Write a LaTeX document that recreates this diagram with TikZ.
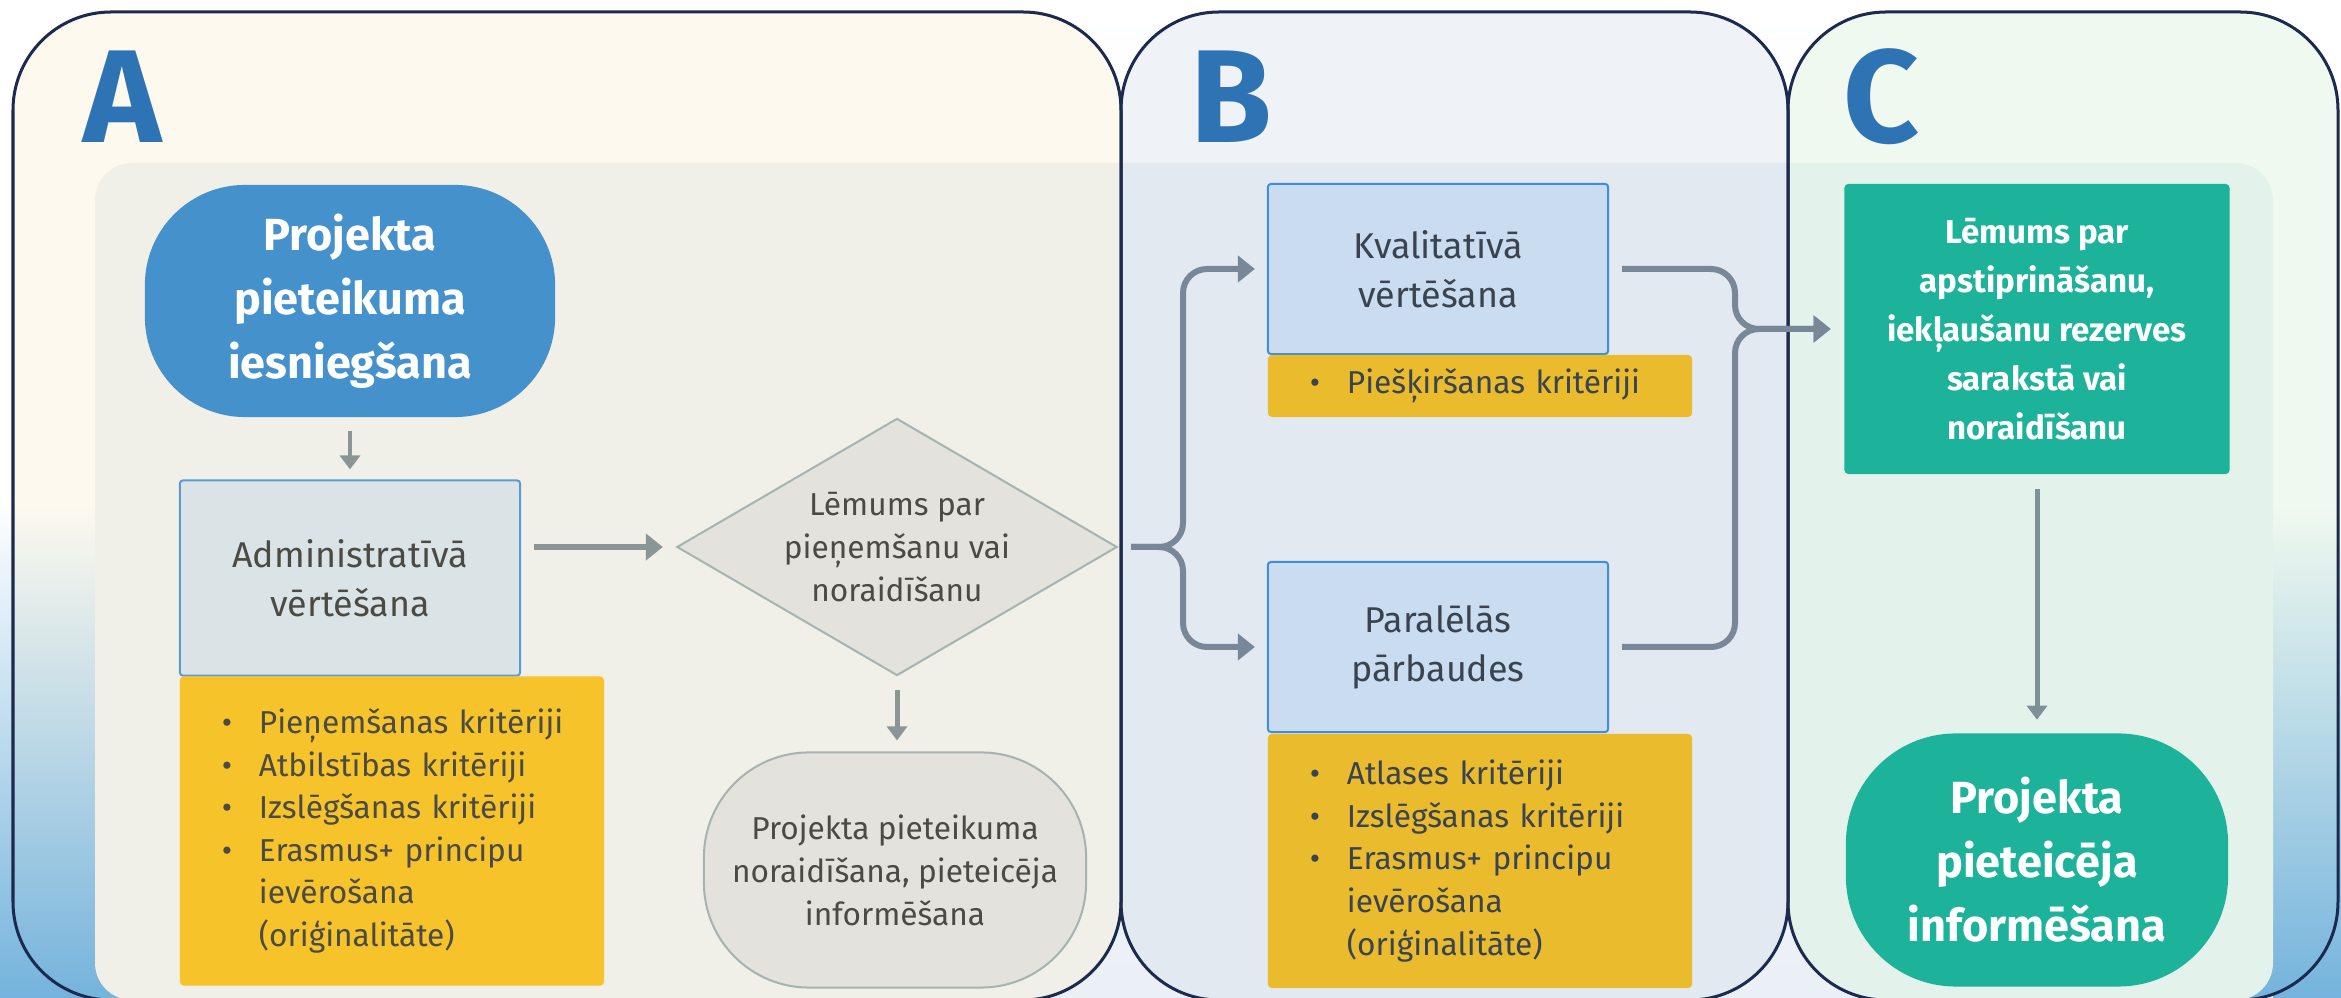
\documentclass[tikz,border=0pt]{standalone}
\usepackage{fontspec}
\setmainfont{Fira Sans}
\usetikzlibrary{arrows.meta,shapes.geometric}

\definecolor{gapgray}{HTML}{EAF0F6}
\definecolor{edgeblue}{HTML}{74B3DC}
\definecolor{panelA}{HTML}{FDF9EE}
\definecolor{panelB}{HTML}{EFF3F7}
\definecolor{panelC}{HTML}{F0F9EF}
\definecolor{innerA}{HTML}{F0EFE8}
\definecolor{innerB}{HTML}{E3E9F0}
\definecolor{innerC}{HTML}{E3F2EB}
\definecolor{frameline}{HTML}{1B2A4E}
\definecolor{letterblue}{HTML}{2E74B5}
\definecolor{stadblue}{HTML}{4591CC}
\definecolor{adminfill}{HTML}{DAE4E7}
\definecolor{adminline}{HTML}{5B9BD5}
\definecolor{kvalfill}{HTML}{CADCF0}
\definecolor{kvalline}{HTML}{3F8EDC}
\definecolor{yellowA}{HTML}{F6C32A}
\definecolor{yellowB}{HTML}{E9BB2D}
\definecolor{grayfill}{HTML}{E3E2DD}
\definecolor{grayline}{HTML}{A7B3B0}
\definecolor{tealbox}{HTML}{1DB29A}
\definecolor{arrowA}{HTML}{8A9696}
\definecolor{arrowB}{HTML}{788899}
\definecolor{arrowC}{HTML}{7E9196}
\definecolor{textA}{HTML}{4B4B45}
\definecolor{textB}{HTML}{3A4350}

\newcommand{\critline}[1]{\makebox[0.37cm][l]{\textbullet}\mbox{#1}}
\newcommand{\critcont}[1]{\hspace*{0.37cm}\mbox{#1}}

\begin{document}
\begin{tikzpicture}[x=0.01cm, y=-0.01cm]
  \useasboundingbox (0,0) rectangle (2341,998);
  \tikzstyle{letter}=[font=\fontsize{37.6}{40}\selectfont\bfseries, text=letterblue, inner sep=0pt, anchor=base west]
  \tikzstyle{frame}=[draw=frameline, line width=0.03cm, rounded corners=0.98cm]
  \tikzstyle{startstad}=[rectangle, rounded corners=1cm, fill=stadblue, text=white, align=center, inner sep=0pt, font=\fontsize{12.8}{18.2}\selectfont\bfseries]
  \tikzstyle{evalbox}=[rectangle, rounded corners=0.03cm, line width=0.02cm, align=center, inner sep=0pt, minimum width=3.4cm, font=\fontsize{10.2}{13.9}\selectfont]
  \tikzstyle{critbox}=[rectangle, rounded corners=0.04cm, align=left, inner xsep=0.42cm, inner ysep=0pt, text width=3.4cm, font=\fontsize{9}{12.1}\selectfont]
  \tikzstyle{graynode}=[fill=grayfill, draw=grayline, line width=0.02cm, text=textA, align=center, inner sep=0pt, font=\fontsize{9}{12.2}\selectfont]
  \tikzstyle{greennode}=[fill=tealbox, text=white, align=center, inner sep=0pt]
  \tikzstyle{thinarrow}=[-{Triangle[length=0.14cm, width=0.2cm]}, line width=0.04cm]
  \tikzstyle{fatarrow}=[-{Triangle[length=0.17cm, width=0.26cm]}, line width=0.06cm, rounded corners=0.24cm]

  % Hintergrund und Felder
  \shade[top color=white, bottom color=gapgray] (0,0) rectangle (2341,998);
  \shade[top color=white, bottom color=edgeblue, middle color=white] (0,0) rectangle (95,998);
  \shade[top color=white, bottom color=edgeblue, middle color=white] (2273,0) rectangle (2341,998);

  \shade[top color=panelA, bottom color=edgeblue, middle color=panelA, rounded corners=0.98cm] (13,12) rectangle (1121,1000);
  \fill[panelB, rounded corners=0.98cm] (1121,12) rectangle (1788,1000);
  \shade[top color=panelC, bottom color=edgeblue, middle color=panelC, rounded corners=0.98cm] (1788,12) rectangle (2338,1000);

  \begin{scope}
    \clip[rounded corners=0.98cm] (13,12) rectangle (1121,1000);
    \fill[innerA, rounded corners=0.37cm] (95,163) rectangle (2273,1000);
  \end{scope}
  \begin{scope}
    \clip[rounded corners=0.98cm] (1121,12) rectangle (1788,1000);
    \fill[innerB, rounded corners=0.37cm] (95,163) rectangle (2273,1000);
  \end{scope}
  \begin{scope}
    \clip[rounded corners=0.98cm] (1788,12) rectangle (2338,1000);
    \fill[innerC, rounded corners=0.37cm] (95,163) rectangle (2273,1000);
  \end{scope}

  \draw[frame] (13,12) rectangle (1121,1000);
  \draw[frame] (1121,12) rectangle (1788,1000);
  \draw[frame] (1788,12) rectangle (2338,1000);

  \node[letter] (labA) at (83,143) {A};
  \node[letter] (labB) at (1190,143) {B};
  \node[letter] (labC) at (1843,143) {C};

  % A
  \node[startstad, minimum width=4.1cm, minimum height=2.32cm] (submit) at (350,301) {Projekta\\pieteikuma\\iesniegšana};
  \node[evalbox, fill=adminfill, draw=adminline, text=textA, minimum height=1.95cm] (admin) at (350,578) {Administratīvā\\vērtēšana};
  \node[critbox, fill=yellowA, text=textA, minimum height=3.09cm] (critA) at (392,831) {\critline{Pieņemšanas kritēriji}\\ \critline{Atbilstības kritēriji}\\ \critline{Izslēgšanas kritēriji}\\ \critline{Erasmus+ principu}\\ \critcont{ievērošana}\\ \critcont{(oriģinalitāte)}};
  \node[graynode, shape=diamond, aspect=1.71, minimum width=4.4cm, minimum height=2.57cm] (decide) at (897,547) {Lēmums par\\pieņemšanu vai\\noraidīšanu};
  \node[graynode, rectangle, rounded corners=1.05cm, minimum width=3.82cm, minimum height=2.35cm] (reject) at (895,870) {Projekta pieteikuma\\noraidīšana, pieteicēja\\informēšana};

  % B
  \node[evalbox, fill=kvalfill, draw=kvalline, text=textB, minimum height=1.7cm] (kval) at (1438,269) {Kvalitatīvā\\vērtēšana};
  \node[critbox, fill=yellowB, text=textB, minimum height=0.62cm] (critB) at (1480,386) {\critline{Piešķiršanas kritēriji}};
  \node[evalbox, fill=kvalfill, draw=kvalline, text=textB, minimum height=1.7cm] (parl) at (1438,647) {Paralēlās\\pārbaudes};
  \node[critbox, fill=yellowB, text=textB, minimum height=2.54cm] (critC) at (1480,861) {\critline{Atlases kritēriji}\\ \critline{Izslēgšanas kritēriji}\\ \critline{Erasmus+ principu}\\ \critcont{ievērošana}\\ \critcont{(oriģinalitāte)}};

  % C
  \node[greennode, rectangle, rounded corners=0.04cm, minimum width=3.85cm, minimum height=2.9cm, font=\fontsize{9.4}{13.9}\selectfont\bfseries] (decision) at (2037,329) {Lēmums par\\apstiprināšanu,\\iekļaušanu rezerves\\sarakstā vai\\noraidīšanu};
  \node[greennode, rectangle, rounded corners=1.1cm, minimum width=3.82cm, minimum height=2.53cm, font=\fontsize{12.8}{18.2}\selectfont\bfseries] (inform) at (2037,860) {Projekta\\pieteicēja\\informēšana};

  \coordinate (fork) at (1183,547);
  \coordinate (join) at (1735,329);

  \draw[thinarrow, arrowA, shorten <=0.13cm, shorten >=0.1cm] (submit) -- (admin);
  \draw[fatarrow, arrowA, shorten <=0.13cm, shorten >=0.13cm] (decide.west -| admin.east) -- (decide.west);
  \draw[thinarrow, arrowA, line width=0.05cm, shorten <=0.13cm, shorten >=0.11cm] (decide.south) -- (decide.south |- reject.north);
  \draw[fatarrow, arrowB, shorten <=0.13cm, shorten >=0.12cm] (decide.east) -- (fork) |- (kval.west);
  \draw[fatarrow, arrowB, shorten <=0.13cm, shorten >=0.12cm] (decide.east) -- (fork) |- (parl.west);
  \draw[fatarrow, arrowB, shorten <=0.13cm, shorten >=0.13cm] (kval.east) -| (join) -- (decision.west);
  \draw[fatarrow, arrowB, shorten <=0.13cm, shorten >=0.13cm] (parl.east) -| (join) -- (decision.west);
  \draw[thinarrow, arrowC, line width=0.05cm, shorten <=0.14cm, shorten >=0.13cm] (decision.south) -- (decision.south |- inform.north);
\end{tikzpicture}
\end{document}
